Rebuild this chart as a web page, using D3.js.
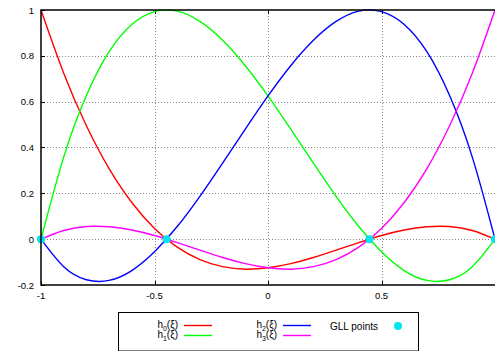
<!DOCTYPE html>
<meta charset="utf-8">
<head>
  <title>GLL Lagrange basis</title>
  <script src="https://cdn.jsdelivr.net/npm/d3@7"></script>
  <style>
    body { margin: 0; background: #fff; overflow: hidden; }
    text { font-family: "Liberation Sans", Arial, sans-serif; fill: #000; }
  </style>
</head>
<body>
  <div id="chart"></div>
  <script>
    // sample positions read along the xi axis
    var xs = [-1, -0.9, -0.8, -0.7, -0.6, -0.5, -0.4, -0.3, -0.2, -0.1, 0,
              0.1, 0.2, 0.3, 0.4, 0.5, 0.6, 0.7, 0.8, 0.9, 1];
    // values of each basis curve at those positions
    var h0 = [1.0, 0.724, 0.495, 0.308, 0.16, 0.047, -0.035, -0.089, -0.12, -0.131, -0.125,
              -0.107, -0.08, -0.048, -0.015, 0.016, 0.04, 0.054, 0.055, 0.038, 0];
    var h1 = [0, 0.358, 0.627, 0.818, 0.937, 0.993, 0.995, 0.950, 0.868, 0.757, 0.625,
              0.480, 0.332, 0.187, 0.055, -0.055, -0.137, -0.180, -0.177, -0.120, 0];
    var h2 = [0, -0.120, -0.177, -0.180, -0.137, -0.055, 0.055, 0.187, 0.332, 0.480, 0.625,
              0.757, 0.868, 0.950, 0.995, 0.993, 0.937, 0.818, 0.627, 0.358, 0];
    var h3 = [0, 0.038, 0.055, 0.054, 0.04, 0.016, -0.015, -0.048, -0.08, -0.107, -0.125,
              -0.131, -0.12, -0.089, -0.035, 0.047, 0.16, 0.308, 0.495, 0.724, 1.0];
    var seriesColors = ["#ff0000", "#00ff00", "#0000ff", "#ff00ff"];
    // GLL points
    var gllX = [-1, -0.447, 0.447, 1];
    var gllY = [0, 0, 0, 0];
    // ticks (the label at 1 falls outside the picture)
    var xTicks = [-1, -0.5, 0, 0.5, 1];
    var xTickLabels = ["-1", "-0.5", "0", "0.5", ""];
    var yTicks = [-0.2, 0, 0.2, 0.4, 0.6, 0.8, 1];
    var yTickLabels = ["-0.2", "0", "0.2", "0.4", "0.6", "0.8", "1"];

    var W = 495, H = 351;
    var svg = d3.select("#chart").append("svg")
      .attr("width", W).attr("height", H);

    var x = d3.scaleLinear().domain([-1, 1]).range([41, 495]);
    var y = d3.scaleLinear().domain([-0.2, 1]).range([285, 10]);

    // grid
    var grid = svg.append("g").attr("stroke", "#888").attr("stroke-width", 1)
      .attr("stroke-dasharray", "1,2");
    grid.selectAll(".gx").data(xTicks.filter(function (d) { return d > -1 && d < 1; }))
      .enter().append("line")
      .attr("x1", function (d) { return Math.round(x(d)) + 0.5; })
      .attr("x2", function (d) { return Math.round(x(d)) + 0.5; })
      .attr("y1", y(1)).attr("y2", y(-0.2));
    grid.selectAll(".gy").data(yTicks.filter(function (d) { return d > -0.2 && d < 1; }))
      .enter().append("line")
      .attr("y1", function (d) { return Math.round(y(d)) + 0.5; })
      .attr("y2", function (d) { return Math.round(y(d)) + 0.5; })
      .attr("x1", x(-1)).attr("x2", x(1));

    // tick marks (inward) and labels
    var tk = svg.append("g").attr("stroke", "#000").attr("stroke-width", 1);
    yTicks.forEach(function (d) {
      var yy = Math.round(y(d)) + 0.5;
      tk.append("line").attr("x1", x(-1)).attr("x2", x(-1) + 4).attr("y1", yy).attr("y2", yy);
    });
    xTicks.forEach(function (d) {
      var xx = Math.round(x(d)) + 0.5;
      tk.append("line").attr("x1", xx).attr("x2", xx).attr("y1", y(-0.2)).attr("y2", y(-0.2) - 4);
      tk.append("line").attr("x1", xx).attr("x2", xx).attr("y1", y(1)).attr("y2", y(1) + 4);
    });
    svg.append("g").selectAll("text").data(yTicks).enter().append("text")
      .attr("x", 34).attr("y", function (d) { return y(d) + 3.5; })
      .attr("text-anchor", "end").attr("font-size", 9.5)
      .text(function (d, i) { return yTickLabels[i]; });
    svg.append("g").selectAll("text").data(xTicks.filter(function (d, i) { return xTickLabels[i]; }))
      .enter().append("text")
      .attr("x", function (d) { return x(d); }).attr("y", 299)
      .attr("text-anchor", "middle").attr("font-size", 9.5)
      .text(function (d, i) { return xTickLabels[i]; });

    // curves
    var line = d3.line()
      .x(function (d) { return x(d[0]); })
      .y(function (d) { return y(d[1]); })
      .curve(d3.curveNatural);
    [h0, h1, h2, h3].forEach(function (vals, i) {
      svg.append("path")
        .datum(xs.map(function (xv, j) { return [xv, vals[j]]; }))
        .attr("d", line)
        .attr("fill", "none")
        .attr("stroke", seriesColors[i])
        .attr("stroke-width", 1.4);
    });

    // GLL points
    svg.append("g").selectAll("circle").data(gllX).enter().append("circle")
      .attr("cx", function (d) { return x(d); })
      .attr("cy", function (d, i) { return y(gllY[i]); })
      .attr("r", 4)
      .attr("fill", "#00e5ee");

    // frame (right side lies outside the picture)
    svg.append("rect")
      .attr("x", 41).attr("y", 10)
      .attr("width", x(1) - 41 + 4).attr("height", 275)
      .attr("fill", "none").attr("stroke", "#000").attr("stroke-width", 1.5);

    // legend
    var lg = svg.append("g");
    lg.append("rect").attr("x", 118.5).attr("y", 312.5).attr("width", 300).attr("height", 38.5)
      .attr("fill", "none").attr("stroke", "#000").attr("stroke-width", 1);
    var entries = [
      { sub: "0", col: seriesColors[0], tx: 178, ly: 326 },
      { sub: "1", col: seriesColors[1], tx: 178, ly: 336 },
      { sub: "2", col: seriesColors[2], tx: 277, ly: 326 },
      { sub: "3", col: seriesColors[3], tx: 277, ly: 336 }
    ];
    entries.forEach(function (e) {
      var t = lg.append("text").attr("x", e.tx).attr("y", e.ly + 2)
        .attr("text-anchor", "end").attr("font-size", 10);
      t.append("tspan").text("h");
      t.append("tspan").attr("font-size", 7).attr("dy", 2.5).text(e.sub);
      t.append("tspan").attr("dy", -2.5).text("(ξ)");
      lg.append("line").attr("x1", e.tx + 6).attr("x2", e.tx + 34)
        .attr("y1", e.ly - 0.5).attr("y2", e.ly - 0.5)
        .attr("stroke", e.col).attr("stroke-width", 1.4);
    });
    lg.append("text").attr("x", 378).attr("y", 329.5).attr("text-anchor", "end")
      .attr("font-size", 10).text("GLL points");
    lg.append("circle").attr("cx", 398).attr("cy", 326).attr("r", 4).attr("fill", "#00e5ee");
  </script>
</body>
</html>
